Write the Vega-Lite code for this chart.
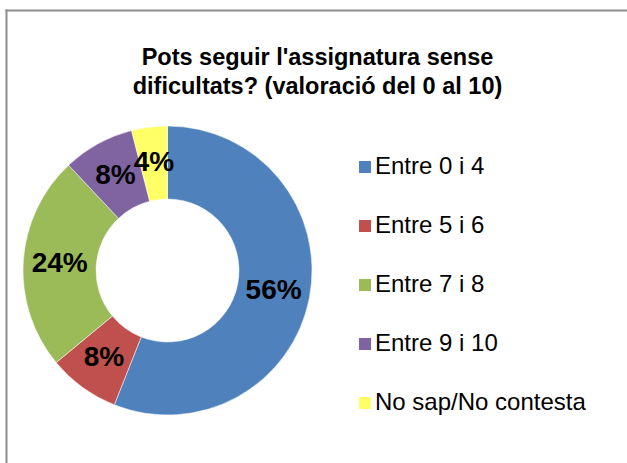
{
  "$schema": "https://vega.github.io/schema/vega-lite/v6.json",
  "autosize": {"type": "none"},
  "padding": {"left": 23, "top": 126, "right": 315, "bottom": 48},
  "width": 289,
  "height": 289,
  "background": "#ffffff",
  "title": {
    "text": ["Pots seguir l'assignatura sense", "dificultats? (valoració del 0 al 10)"],
    "font": "Liberation Sans",
    "fontSize": 23.5,
    "fontWeight": "bold",
    "color": "#000000",
    "lineHeight": 28.5,
    "anchor": "middle",
    "dx": 150,
    "offset": -88
  },
  "data": {
    "values": [
      {"category": "Entre 0 i 4", "pct": 0.56},
      {"category": "Entre 5 i 6", "pct": 0.08},
      {"category": "Entre 7 i 8", "pct": 0.24},
      {"category": "Entre 9 i 10", "pct": 0.08},
      {"category": "No sap/No contesta", "pct": 0.04}
    ]
  },
  "layer": [
    {
      "mark": {"type": "arc", "innerRadius": 71.5, "stroke": "#ffffff", "strokeWidth": 0.5},
      "encoding": {
        "theta": {"field": "pct", "type": "quantitative", "stack": true},
        "order": {"field": "category", "sort": "ascending"},
        "color": {
          "field": "category",
          "type": "nominal",
          "scale": {
            "domain": ["Entre 0 i 4", "Entre 5 i 6", "Entre 7 i 8", "Entre 9 i 10", "No sap/No contesta"],
            "range": ["#4F81BD", "#C0504D", "#9BBB59", "#8064A2", "#FFFF66"]
          },
          "legend": {
            "title": null,
            "orient": "none",
            "legendX": 330,
            "legendY": 29,
            "symbolType": "square",
            "symbolSize": 144,
            "symbolStrokeWidth": 0,
            "labelFont": "Liberation Sans",
            "labelFontSize": 24,
            "labelColor": "#000000",
            "labelOffset": -2,
            "rowPadding": 35,
            "labelLimit": 400,
            "padding": 0
          }
        }
      }
    },
    {
      "mark": {"type": "text", "radius": 108, "font": "Liberation Sans", "fontSize": 28, "fontWeight": "bold", "fill": "#000000"},
      "encoding": {
        "theta": {"field": "pct", "type": "quantitative", "stack": true},
        "order": {"field": "category", "sort": "ascending"},
        "text": {"field": "pct", "type": "quantitative", "format": ".0%"}
      }
    },
    {
      "mark": {"type": "point", "opacity": 0},
      "encoding": {
        "x": {
          "field": "pct",
          "type": "quantitative",
          "scale": {"range": [-18, 700]},
          "axis": {"orient": "top", "offset": 116, "domainColor": "#8c8c8c", "domainWidth": 2, "ticks": false, "labels": false, "grid": false, "title": null}
        },
        "y": {
          "field": "pct",
          "type": "quantitative",
          "scale": {"range": [400, -117]},
          "axis": {"orient": "left", "offset": 17, "domainColor": "#8c8c8c", "domainWidth": 2, "ticks": false, "labels": false, "grid": false, "title": null}
        }
      }
    }
  ],
  "config": {
    "view": {"stroke": null}
  }
}
